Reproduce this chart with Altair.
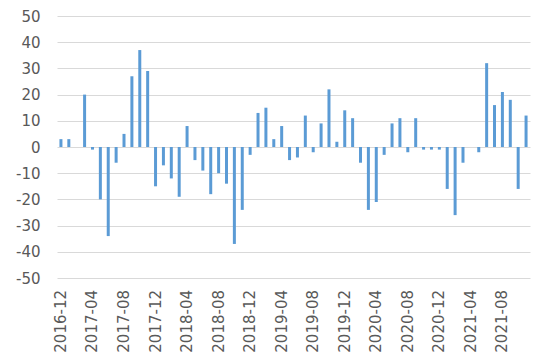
import altair as alt
import pandas as pd

months = [d.strftime("%Y-%m") for d in pd.date_range("2016-12-01", periods=60, freq="MS")]
values = [3, 3, 0, 20, -1, -20, -34, -6, 5, 27,
          37, 29, -15, -7, -12, -19, 8, -5, -9, -18,
          -10, -14, -37, -24, -3, 13, 15, 3, 8, -5,
          -4, 12, -2, 9, 22, 2, 14, 11, -6, -24,
          -21, -3, 9, 11, -2, 11, -1, -1, -1, -16,
          -26, -6, 0, -2, 32, 16, 21, 18, -16, 12]
tick_labels = months[::4]
y_ticks = list(range(-50, 51, 10))

df = pd.DataFrame({"month": months, "value": values})
lab_df = pd.DataFrame({"month": tick_labels})

FONT = "DejaVu Sans"
x_enc = alt.X("month:N", sort=months,
              scale=alt.Scale(paddingInner=0, paddingOuter=0),
              axis=alt.Axis(title=None, labels=False, ticks=False, domain=False, grid=False))

bars = alt.Chart(df).mark_bar(size=3, color="#5B9BD5").encode(
    x=x_enc,
    y=alt.Y("value:Q", scale=alt.Scale(domain=[-50, 50], nice=False),
            axis=alt.Axis(title=None, values=y_ticks, ticks=False, domain=False,
                          labelExpr="datum.value + ''",
                          labelPadding=17, labelFont=FONT, labelFontSize=15,
                          labelColor="#595959", gridColor="#d9d9d9", gridWidth=1)),
)

labels = alt.Chart(lab_df).mark_text(
    angle=270, align="right", baseline="middle", font=FONT, fontSize=15,
    color="#595959", dy=0
).encode(
    x=alt.X("month:N", sort=months),
    y=alt.value(274),
    text="month:N",
)

chart = alt.layer(bars, labels).properties(
    width=473, height=262,
    autosize=alt.AutoSizeParams(type="none"),
    padding={"left": 49, "top": 8, "right": 12, "bottom": 75},
).configure_view(stroke=None)

chart.save("out.html", embed_options={"renderer": "svg", "actions": False})
